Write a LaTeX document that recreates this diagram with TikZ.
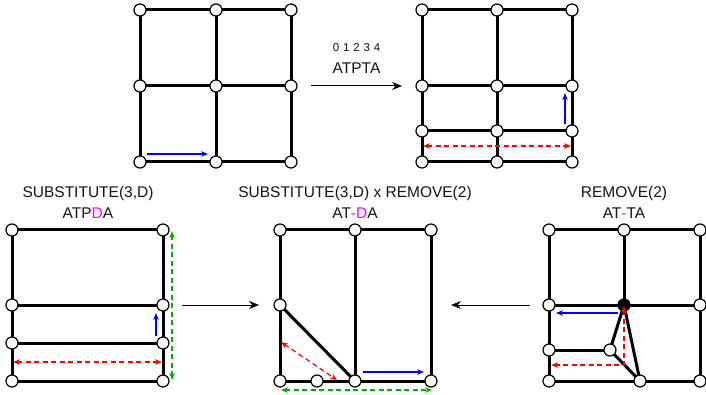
\documentclass[tikz,border=0pt]{standalone}
\usepackage{fontspec}
\setmainfont{Liberation Sans}
\usetikzlibrary{arrows.meta,backgrounds}
\definecolor{mag}{HTML}{FF00FF}
\definecolor{grn}{HTML}{00B000}
\tikzset{
  vtx/.style={circle,draw=black,fill=white,line width=1.2pt,minimum size=12pt,inner sep=0pt},
  vtxb/.style={circle,draw=black,fill=black,line width=1.2pt,minimum size=12pt,inner sep=0pt},
  edge/.style={line width=3pt,line cap=round},
  tip/.style={-{Stealth[length=7pt,width=5.5pt]}},
  bluearr/.style={tip,draw=blue,line width=1.2pt},
  redarr/.style={{Stealth[length=7pt,width=5.5pt]}-{Stealth[length=7pt,width=5.5pt]},draw=red,line width=1.2pt,dash pattern=on 5pt off 3.5pt},
  grnarr/.style={{Stealth[length=7pt,width=5.5pt]}-{Stealth[length=7pt,width=5.5pt]},draw=grn,line width=1.2pt,dash pattern=on 5pt off 3.5pt},
  mainarr/.style={-{Stealth[length=10pt,width=8pt]},draw=black,line width=1pt},
  lbl/.style={font=\fontsize{15.5}{18}\selectfont,text=black!92,inner sep=0pt},
  lbls/.style={font=\fontsize{11.5}{14}\selectfont,text=black!92,inner sep=0pt}
}
\begin{document}
\begin{tikzpicture}[x=1pt,y=-1pt]
\useasboundingbox (0,0) rectangle (706,395);
% ---------- Grid A (top-left) ----------
\foreach \i/\x in {1/140,2/216,3/291}{
  \foreach \j/\y in {1/10,2/86,3/162}{
    \node[vtx] (a\i\j) at (\x,\y) {};
  }
}
% ---------- Grid B (top-right) ----------
\foreach \i/\x in {1/422,2/497,3/572}{
  \foreach \j/\y in {1/10,2/86,3/131,4/162}{
    \node[vtx] (b\i\j) at (\x,\y) {};
  }
}
% ---------- Grid C (bottom-left) ----------
\foreach \i/\x in {1/12,2/163}{
  \foreach \j/\y in {1/230,2/305,3/343,4/381}{
    \node[vtx] (c\i\j) at (\x,\y) {};
  }
}
% ---------- Grid D (bottom-middle) ----------
\node[vtx] (d11) at (280,230) {};
\node[vtx] (d21) at (355,230) {};
\node[vtx] (d31) at (431,230) {};
\node[vtx] (d12) at (280,305) {};
\node[vtx] (d14) at (280,381) {};
\node[vtx] (dm4) at (317,381) {};
\node[vtx] (d24) at (355,381) {};
\node[vtx] (d34) at (431,381) {};
% ---------- Grid E (bottom-right) ----------
\node[vtx] (e11) at (549,230) {};
\node[vtx] (e21) at (624,230) {};
\node[vtx] (e31) at (700,230) {};
\node[vtx] (e12) at (549,305) {};
\node[vtxb] (e22) at (624,305) {};
\node[vtx] (e32) at (700,305) {};
\node[vtx] (e13) at (549,350) {};
\node[vtx] (em3) at (610,350) {};
\node[vtx] (e14) at (549,381) {};
\node[vtx] (em4) at (640,381) {};
\node[vtx] (e34) at (700,381) {};
% ---------- edges ----------
\begin{scope}[on background layer]
  % A
  \foreach \j in {1,2,3}{\draw[edge] (a1\j.center) -- (a3\j.center);}
  \foreach \i in {1,2,3}{\draw[edge] (a\i1.center) -- (a\i3.center);}
  % B
  \foreach \j in {1,2,3,4}{\draw[edge] (b1\j.center) -- (b3\j.center);}
  \foreach \i in {1,2,3}{\draw[edge] (b\i1.center) -- (b\i4.center);}
  % C
  \foreach \j in {1,2,3,4}{\draw[edge] (c1\j.center) -- (c2\j.center);}
  \foreach \i in {1,2}{\draw[edge] (c\i1.center) -- (c\i4.center);}
  % D
  \draw[edge] (d11.center) -- (d31.center);
  \draw[edge] (d14.center) -- (d34.center);
  \draw[edge] (d11.center) -- (d14.center);
  \draw[edge] (d21.center) -- (d24.center);
  \draw[edge] (d31.center) -- (d34.center);
  \draw[edge] (d12.center) -- (d24.center);
  % E
  \draw[edge] (e11.center) -- (e31.center);
  \draw[edge] (e12.center) -- (e32.center);
  \draw[edge] (e14.center) -- (e34.center);
  \draw[edge] (e13.center) -- (em3.center);
  \draw[edge] (e11.center) -- (e14.center);
  \draw[edge] (e21.center) -- (e22.center);
  \draw[edge] (e31.center) -- (e34.center);
  \draw[edge] (em3.center) -- (e22.center);
  \draw[edge] (e22.center) -- (em4.center);
  \draw[edge] (em3.center) -- (em4.center);
\end{scope}
% ---------- coloured arrows ----------
\coordinate (abs) at (147,154); \coordinate (abe) at (208,154);
\draw[bluearr] (abs) -- (abe);
\coordinate (bbs) at (565,124); \coordinate (bbe) at (565,93);
\draw[bluearr] (bbs) -- (bbe);
\coordinate (brs) at (423,146); \coordinate (bre) at (571,146);
\draw[redarr] (brs) -- (bre);
\coordinate (cbs) at (156,336); \coordinate (cbe) at (156,313);
\draw[bluearr] (cbs) -- (cbe);
\coordinate (crs) at (13,362); \coordinate (cre) at (162,362);
\draw[redarr] (crs) -- (cre);
\coordinate (cgs) at (172,231); \coordinate (cge) at (172,380);
\draw[grnarr] (cgs) -- (cge);
\coordinate (drs) at (281,342); \coordinate (dre) at (337,380);
\draw[redarr] (drs) -- (dre);
\coordinate (dbs) at (363,372); \coordinate (dbe) at (424,372);
\draw[bluearr] (dbs) -- (dbe);
\coordinate (dgs) at (281,390); \coordinate (dge) at (432,390);
\draw[grnarr] (dgs) -- (dge);
\coordinate (ebs) at (618,313); \coordinate (ebe) at (556,313);
\draw[bluearr] (ebs) -- (ebe);
\coordinate (ers) at (624,306); \coordinate (erm) at (624,365); \coordinate (ere) at (551,365);
\draw[redarr] (ers) -- (erm) -- (ere);
% ---------- main arrows ----------
\coordinate (m1s) at (311,86); \coordinate (m1e) at (402,86);
\draw[mainarr] (m1s) -- (m1e);
\coordinate (m2s) at (182,305); \coordinate (m2e) at (259,305);
\draw[mainarr] (m2s) -- (m2e);
\coordinate (m3s) at (530,305); \coordinate (m3e) at (451,305);
\draw[mainarr] (m3s) -- (m3e);
% ---------- labels ----------
\node[lbls] (idx) at (356.5,48) {0\,\,1\,\,2\,\,3\,\,4};
\node[lbl] (seq) at (356.5,68) {ATPTA};
\node[lbl] (t1) at (88,193) {SUBSTITUTE(3,D)};
\node[lbl] (s1) at (88,213) {ATP\textcolor{mag}{D}A};
\node[lbl] (t2) at (355,193) {SUBSTITUTE(3,D) x REMOVE(2)};
\node[lbl] (s2) at (355,213) {AT\textcolor{mag}{-D}A};
\node[lbl] (t3) at (624,193) {REMOVE(2)};
\node[lbl] (s3) at (624,213) {AT\textcolor{mag}{-}TA};
\end{tikzpicture}
\end{document}
